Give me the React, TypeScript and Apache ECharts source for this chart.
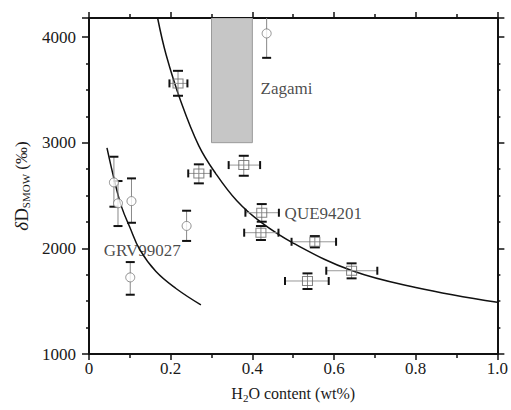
import React, { useEffect, useRef } from "react";
import * as echarts from "echarts";

// ---- data ----
const circleX = [0.061, 0.071, 0.104, 0.101, 0.239, 0.435];
const circleY = [2624, 2426, 2447, 1725, 2212, 4034];
const circleYLow = [2394, 2211, 2242, 1561, 2070, 3803];
const circleYHigh = [2867, 2637, 2662, 1870, 2356, 4270];

const squareX = [0.218, 0.269, 0.379, 0.423, 0.421, 0.553, 0.643, 0.535];
const squareY = [3561, 2709, 2788, 2337, 2148, 2062, 1788, 1691];
const squareYLow = [3444, 2615, 2687, 2252, 2079, 2009, 1716, 1615];
const squareYHigh = [3680, 2795, 2876, 2419, 2211, 2116, 1858, 1763];
const squareXLow = [0.197, 0.243, 0.342, 0.383, 0.38, 0.496, 0.581, 0.48];
const squareXHigh = [0.241, 0.298, 0.419, 0.465, 0.464, 0.605, 0.706, 0.587];

const bigCurveX = [0.168, 0.189, 0.225, 0.269, 0.31, 0.362, 0.42, 0.5, 0.643, 0.8, 1.0];
const bigCurveY = [4180, 3830, 3390, 2970, 2710, 2450, 2250, 2050, 1790, 1630, 1489];

const smallCurveX = [0.044, 0.063, 0.08, 0.1, 0.124, 0.164, 0.213, 0.274];
const smallCurveY = [2950, 2630, 2390, 2200, 1990, 1780, 1620, 1465];

const zagamiBox = [0.3, 3000, 0.4, 4180];

const labelNames = ["Zagami", "QUE94201", "GRV99027"];
const labelX = [0.42, 0.479, 0.036];
const labelY = [3517, 2334, 1984];

const X_MIN = 0, X_MAX = 1.0, X_INT = 0.2;
const Y_MIN = 1000, Y_MAX = 4180, Y_INT = 1000;

const SERIF = "Liberation Serif";

export default function App() {
  const ref = useRef<HTMLDivElement>(null);
  useEffect(() => {
    const chart = echarts.init(ref.current!, null, { renderer: "svg" });

    const axisLine = { show: true, onZero: false, lineStyle: { color: "#111", width: 2 } };
    const xCommon = {
      type: "value",
      min: X_MIN,
      max: X_MAX,
      interval: X_INT,
      splitLine: { show: false },
      axisLine,
      minorTick: { show: true, splitNumber: 2, length: 4, lineStyle: { color: "#111", width: 1.5 } },
      axisTick: { show: true, inside: false, length: 6, lineStyle: { color: "#111", width: 1.5 } },
    };
    const yCommon = {
      type: "value",
      min: Y_MIN,
      max: Y_MAX,
      interval: Y_INT,
      splitLine: { show: false },
      axisLine,
      minorTick: { show: true, splitNumber: 4, length: 3, lineStyle: { color: "#111", width: 1.5 } },
      axisTick: { show: true, inside: false, length: 7, lineStyle: { color: "#111", width: 1.5 } },
    };

    const circleErr = circleX.map((x, i) => [x, circleY[i], circleYLow[i], circleYHigh[i]]);
    const squareErr = squareX.map((x, i) => [
      x,
      squareY[i],
      squareYLow[i],
      squareYHigh[i],
      squareXLow[i],
      squareXHigh[i],
    ]);

    const vBar = (api: any, x: number, lo: number, hi: number, capW: number) => {
      const a = api.coord([x, lo]);
      const b = api.coord([x, hi]);
      return [
        { type: "line", shape: { x1: a[0], y1: a[1], x2: b[0], y2: b[1] }, style: { stroke: "#888", lineWidth: 1 } },
        { type: "line", shape: { x1: a[0] - capW, y1: a[1], x2: a[0] + capW, y2: a[1] }, style: { stroke: "#111", lineWidth: 2 } },
        { type: "line", shape: { x1: b[0] - capW, y1: b[1], x2: b[0] + capW, y2: b[1] }, style: { stroke: "#111", lineWidth: 2 } },
      ];
    };

    const option: any = {
      animation: false,
      backgroundColor: "#fff",
      grid: { left: 89, right: 10, top: 18, bottom: 56, containLabel: false },
      xAxis: [
        {
          ...xCommon,
          position: "bottom",
          axisLabel: {
            show: true,
            margin: 6,
            fontFamily: SERIF,
            fontSize: 17,
            color: "#1a1a1a",
            formatter: (v: number) => (v === 0 ? "0" : v.toFixed(1)),
          },
          name: "{n|H}{s|2}{n|O content (wt%)}",
          nameLocation: "middle",
          nameGap: 30,
          nameTextStyle: {
            rich: {
              n: { fontFamily: SERIF, fontSize: 16, color: "#1a1a1a" },
              s: { fontFamily: SERIF, fontSize: 11, color: "#1a1a1a", padding: [8, 0, 0, 0] },
            },
          },
        },
        {
          ...xCommon,
          position: "top",
          axisLabel: { show: false },
        },
      ],
      yAxis: [
        {
          ...yCommon,
          position: "left",
          axisLabel: {
            show: true,
            margin: 13,
            fontFamily: SERIF,
            fontSize: 17,
            color: "#1a1a1a",
            showMaxLabel: false,
            formatter: (v: number) => (v % 1000 === 0 ? String(v) : ""),
          },
          name: "{g|δ}{d|D}{s|SMOW}{p| (‰)}",
          nameLocation: "middle",
          nameRotate: 90,
          nameGap: 58,
          nameTextStyle: {
            rich: {
              g: { fontFamily: SERIF, fontSize: 19, fontStyle: "italic", color: "#1a1a1a" },
              d: { fontFamily: SERIF, fontSize: 19, color: "#1a1a1a" },
              s: { fontFamily: SERIF, fontSize: 11, color: "#1a1a1a", padding: [9, 0, 0, 0] },
              p: { fontFamily: SERIF, fontSize: 17, color: "#1a1a1a" },
            },
          },
        },
        {
          ...yCommon,
          position: "right",
          axisLabel: { show: false },
        },
      ],
      series: [
        {
          type: "custom",
          name: "Zagami box",
          clip: true,
          data: [zagamiBox],
          renderItem: (params: any, api: any) => {
            const p1 = api.coord([api.value(0), api.value(3)]);
            const p2 = api.coord([api.value(2), api.value(1)]);
            return {
              type: "rect",
              shape: { x: p1[0], y: p1[1], width: p2[0] - p1[0], height: p2[1] - p1[1] },
              style: { fill: "#c6c6c6", stroke: "#9a9a9a", lineWidth: 1 },
            };
          },
          z: 1,
        },
        {
          type: "line",
          name: "mixing curve",
          data: bigCurveX.map((x, i) => [x, bigCurveY[i]]),
          smooth: 0.4,
          showSymbol: false,
          clip: true,
          lineStyle: { color: "#111", width: 1.5 },
          z: 3,
        },
        {
          type: "line",
          name: "GRV curve",
          data: smallCurveX.map((x, i) => [x, smallCurveY[i]]),
          smooth: 0.4,
          showSymbol: false,
          clip: true,
          lineStyle: { color: "#111", width: 1.5 },
          z: 3,
        },
        {
          type: "custom",
          name: "circle errors",
          clip: true,
          data: circleErr,
          renderItem: (params: any, api: any) => ({
            type: "group",
            children: vBar(api, api.value(0), api.value(2), api.value(3), 4.5),
          }),
          z: 4,
        },
        {
          type: "custom",
          name: "square errors",
          clip: true,
          data: squareErr,
          renderItem: (params: any, api: any) => {
            const x = api.value(0);
            const y = api.value(1);
            const l = api.coord([api.value(4), y]);
            const r = api.coord([api.value(5), y]);
            const children: any[] = [
              { type: "line", shape: { x1: l[0], y1: l[1], x2: r[0], y2: r[1] }, style: { stroke: "#999", lineWidth: 1 } },
              { type: "line", shape: { x1: l[0], y1: l[1] - 4, x2: l[0], y2: l[1] + 4 }, style: { stroke: "#111", lineWidth: 2 } },
              { type: "line", shape: { x1: r[0], y1: r[1] - 4, x2: r[0], y2: r[1] + 4 }, style: { stroke: "#111", lineWidth: 2 } },
              ...vBar(api, x, api.value(2), api.value(3), 5),
            ];
            return { type: "group", children };
          },
          z: 4,
        },
        {
          type: "scatter",
          name: "circles",
          data: circleX.map((x, i) => [x, circleY[i]]),
          symbol: "circle",
          symbolSize: 9,
          itemStyle: { color: "#fff", borderColor: "#777", borderWidth: 1 },
          z: 5,
        },
        {
          type: "scatter",
          name: "squares",
          data: squareX.map((x, i) => [x, squareY[i]]),
          symbol: "rect",
          symbolSize: [10, 9],
          itemStyle: { color: "none", borderColor: "#666", borderWidth: 1 },
          z: 5,
        },
        {
          type: "scatter",
          name: "labels",
          data: labelNames.map((n, i) => ({ value: [labelX[i], labelY[i]], name: n })),
          symbolSize: 0,
          silent: true,
          label: {
            show: true,
            position: "right",
            distance: 0,
            formatter: (p: any) => p.name,
            fontFamily: SERIF,
            fontSize: 17,
            color: "#1a1a1a",
          },
          z: 6,
        },
      ],
    };
    chart.setOption(option);
    return () => chart.dispose();
  }, []);
  return (
    <div
      ref={ref}
      style={{ position: "absolute", left: 0, top: 0, width: 511, height: 410, background: "#fff" }}
    />
  );
}
